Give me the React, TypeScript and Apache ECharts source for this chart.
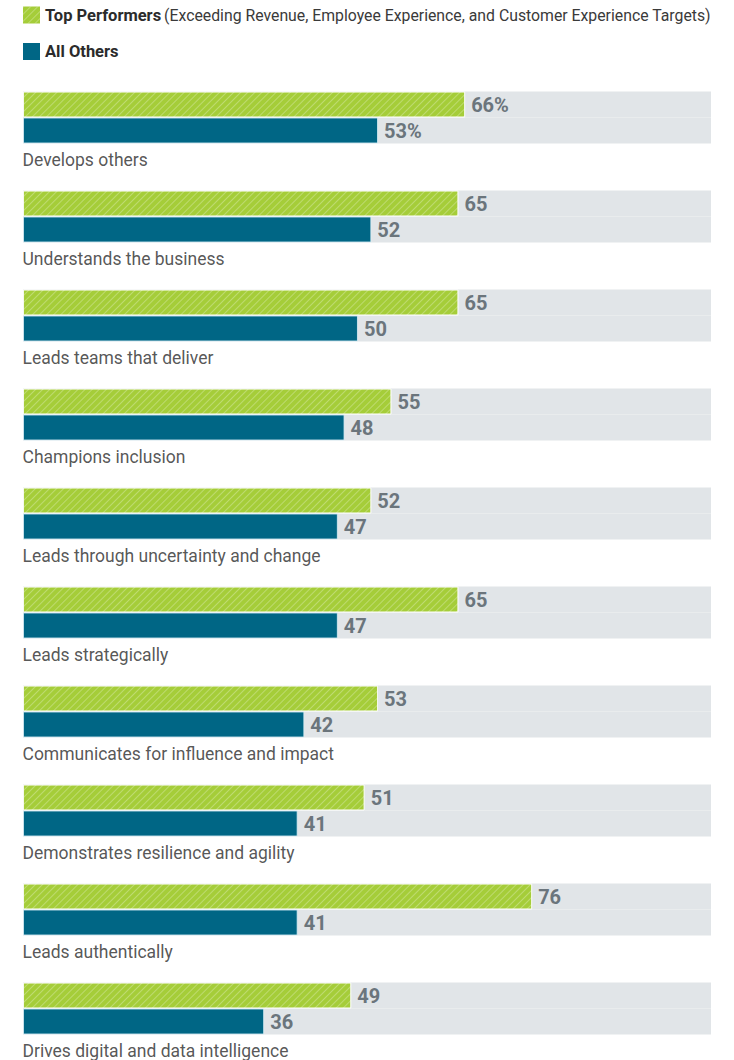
import React, { useEffect, useRef } from "react";
import * as echarts from "echarts";

const categories = [
  "Develops others",
  "Understands the business",
  "Leads teams that deliver",
  "Champions inclusion",
  "Leads through uncertainty and change",
  "Leads strategically",
  "Communicates for influence and impact",
  "Demonstrates resilience and agility",
  "Leads authentically",
  "Drives digital and data intelligence",
];
const topPerformers = [66, 65, 65, 55, 52, 65, 53, 51, 76, 49];
const allOthers = [53, 52, 50, 48, 47, 47, 42, 41, 41, 36];

const FONT = "Roboto, 'Noto Sans', sans-serif";

export default function App() {
  const ref = useRef<HTMLDivElement>(null);
  useEffect(() => {
    if (!ref.current) return;
    const chart = echarts.init(ref.current, undefined, { renderer: "svg" });
    const valueLabel = {
      show: true,
      position: "right",
      distance: 6,
      fontFamily: FONT,
      fontWeight: "bold",
      fontSize: 20,
      color: "#6b757c",
      formatter: (p: any) => (p.dataIndex === 0 ? p.value + "%" : String(p.value)),
    };
    chart.setOption({
      animation: false,
      legend: {
        data: ["Top Performers", "All Others"],
        orient: "vertical",
        left: 23,
        top: 6.5,
        padding: 0,
        itemWidth: 17,
        itemHeight: 17,
        itemGap: 19.5,
        icon: "rect",
        selectedMode: false,
        itemStyle: { borderWidth: 0 },
        formatter: (name: string) =>
          name === "Top Performers"
            ? "{b|Top Performers} {n|(Exceeding Revenue, Employee Experience, and Customer Experience Targets)}"
            : "{b|All Others}",
        textStyle: {
          fontFamily: FONT,
          rich: {
            b: { fontFamily: FONT, fontWeight: "bold", fontSize: 16.5, color: "#2b2b2b", lineHeight: 20 },
            n: { fontFamily: FONT, fontSize: 15.8, color: "#3a3a3a", lineHeight: 20 },
          },
        },
      },
      grid: { left: 23, right: 23, top: 68, bottom: 2, containLabel: false },
      xAxis: {
        type: "value",
        min: 0,
        max: 102.7,
        show: false,
      },
      yAxis: {
        type: "category",
        data: categories,
        inverse: true,
        show: false,
      },
      series: [
        {
          name: "Top Performers",
          type: "bar",
          data: topPerformers,
          barWidth: 26,
          barGap: "0%",
          showBackground: true,
          backgroundStyle: { color: "#e1e5e8" },
          itemStyle: {
            color: "#a5cd39",
            borderColor: "rgba(255,255,255,0.6)",
            borderWidth: 1,
            decal: {
              symbol: "rect",
              symbolSize: 1,
              color: "rgba(255,255,255,0.28)",
              dashArrayX: [1, 0],
              dashArrayY: [1, 3.5],
              rotation: -Math.PI / 4,
            },
          },
          label: valueLabel,
        },
        {
          name: "All Others",
          type: "bar",
          data: allOthers,
          barWidth: 26,
          barGap: "0%",
          showBackground: true,
          backgroundStyle: { color: "#e1e5e8" },
          itemStyle: {
            color: "#006685",
            borderColor: "rgba(220,240,248,0.8)",
            borderWidth: 1,
          },
          label: valueLabel,
        },
        {
          name: "labels",
          type: "scatter",
          data: categories.map((_, i) => [0, i]),
          symbolSize: 1,
          itemStyle: { color: "transparent" },
          silent: true,
          label: {
            show: true,
            position: [0, 42.5],
            align: "left",
            verticalAlign: "middle",
            fontFamily: FONT,
            fontSize: 17.5,
            color: "#2b2b2b",
            formatter: (p: any) => categories[p.dataIndex],
          },
        },
      ],
    });
    return () => chart.dispose();
  }, []);
  return (
    <div
      ref={ref}
      style={{ position: "absolute", left: 0, top: 0, width: 734, height: 1060 }}
    />
  );
}
